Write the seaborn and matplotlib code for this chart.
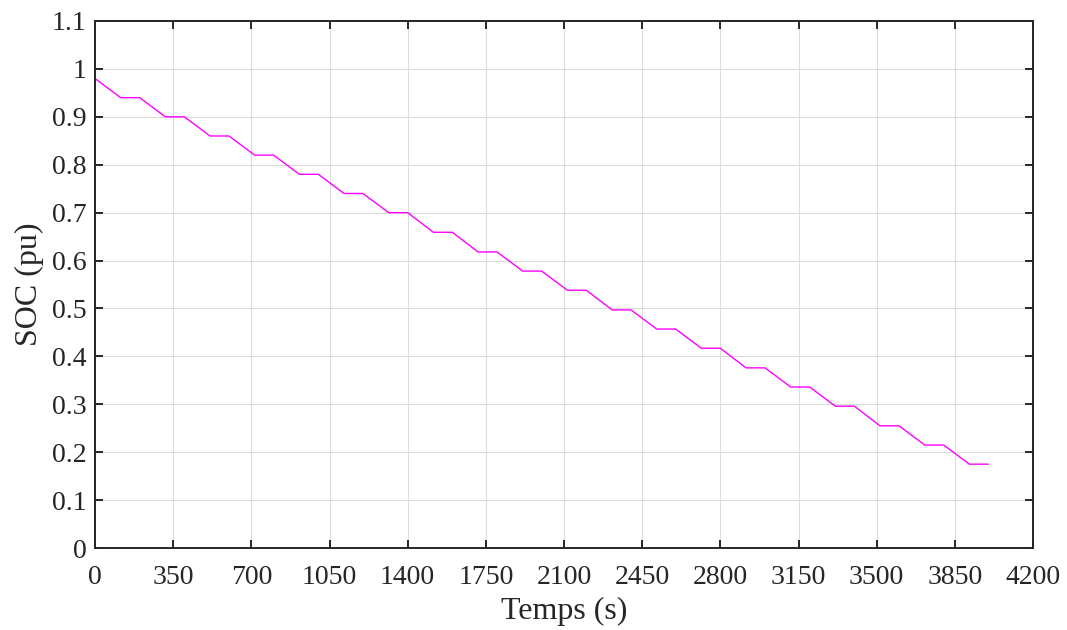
import matplotlib
matplotlib.use("Agg")
import matplotlib.pyplot as plt
import seaborn as sns
import pandas as pd

# Breakpoints of the SOC curve (time in s, SOC in pu)
time_s = [0, 115, 200, 315, 400, 515, 600, 715, 800, 915, 1000, 1115, 1200,
          1315, 1400, 1515, 1600, 1715, 1800, 1915, 2000, 2115, 2200, 2315,
          2400, 2515, 2600, 2715, 2800, 2915, 3000, 3115, 3200, 3315, 3400,
          3515, 3600, 3715, 3800, 3915, 4000]
soc_pu = [0.98, 0.94, 0.94, 0.90, 0.90, 0.86, 0.86, 0.82, 0.82, 0.78, 0.78,
          0.74, 0.74, 0.70, 0.70, 0.659, 0.659, 0.618, 0.618, 0.578, 0.578,
          0.538, 0.538, 0.497, 0.497, 0.457, 0.457, 0.417, 0.417, 0.376, 0.376,
          0.336, 0.336, 0.296, 0.296, 0.255, 0.255, 0.215, 0.215, 0.175, 0.175]

x_ticks = [0, 350, 700, 1050, 1400, 1750, 2100, 2450, 2800, 3150, 3500, 3850, 4200]
y_ticks = [0, 0.1, 0.2, 0.3, 0.4, 0.5, 0.6, 0.7, 0.8, 0.9, 1, 1.1]
y_tick_labels = ["0", "0.1", "0.2", "0.3", "0.4", "0.5", "0.6", "0.7", "0.8", "0.9", "1", "1.1"]

sns.set_style("white")
plt.rcParams['font.family'] = ['Liberation Serif', 'DejaVu Serif']
plt.rcParams['mathtext.fontset'] = 'stix'

df = pd.DataFrame({"t": time_s, "soc": soc_pu})

fig = plt.figure(figsize=(10.67, 6.3), dpi=100)
ax = fig.add_axes([95/1067, 1 - 548/630, (1033-95)/1067, (548-21)/630])

sns.lineplot(data=df, x="t", y="soc", ax=ax, color="#FF00FF", linewidth=1.0,
             estimator=None, sort=False)

ax.set_xlim(0, 4200)
ax.set_ylim(0, 1.1)
ax.set_xticks(x_ticks)
ax.set_xticklabels([str(v) for v in x_ticks])
ax.set_yticks(y_ticks)
ax.set_yticklabels(y_tick_labels)
ax.grid(True, color="#DCDCDC", linewidth=0.8)
ax.set_axisbelow(True)
for s in ax.spines.values():
    s.set_visible(True)
    s.set_color("#262626")
    s.set_linewidth(1.4)
ax.tick_params(direction="in", length=6, width=1.4, colors="#262626",
               labelsize=20, top=True, right=True, bottom=True, left=True)
ax.tick_params(axis="x", pad=12.5)
ax.tick_params(axis="y", pad=6)
ax.set_xlabel("Temps (s)", fontsize=23, color="#262626", labelpad=5)
ax.set_ylabel("SOC (pu)", fontsize=23, color="#262626", labelpad=6)

fig.savefig("out.png", dpi=100)
